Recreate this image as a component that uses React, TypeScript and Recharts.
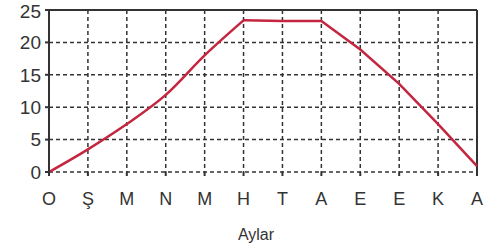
import { LineChart, Line, XAxis, YAxis, CartesianGrid, ReferenceLine, Label } from 'recharts'

const months = ['O', 'Ş', 'M', 'N', 'M', 'H', 'T', 'A', 'E', 'E', 'K', 'A']
const values = [0, 3.5, 7.4, 11.9, 18, 23.4, 23.3, 23.3, 18.9, 13.6, 7.4, 0.9]
const yTicks = [0, 5, 10, 15, 20, 25]
const peakIndex = 5

// rising part is smooth, the plateau and the fall are straight segments
const data = months.map((m, i) => ({
  idx: i,
  month: m,
  rise: i <= peakIndex ? values[i] : null,
  fall: i >= peakIndex ? values[i] : null,
}))

const font = 'Liberation Sans, Arial, sans-serif'
const ink = '#333'
const red = '#c4253f'

export default function App() {
  return (
    <div style={{ position: 'absolute', left: 0, top: 0 }}>
      <LineChart
        width={496}
        height={244}
        data={data}
        margin={{ top: 10, right: 19, bottom: 0, left: 0 }}
      >
        <CartesianGrid stroke={ink} strokeWidth={1.5} strokeDasharray="4 3" />
        <XAxis
          dataKey="idx"
          type="number"
          domain={[0, 11]}
          ticks={data.map((d) => d.idx)}
          tickFormatter={(i: number) => months[i]}
          height={72}
          axisLine={false}
          tickSize={4}
          tickMargin={16}
          tickLine={{ stroke: ink, strokeWidth: 2 }}
          tick={{ fontSize: 18, fill: ink, fontFamily: font }}
          interval={0}
        >
          <Label
            value="Aylar"
            position="insideBottom"
            offset={4}
            dx={-7}
            style={{ fontSize: 16, fill: ink, fontFamily: font }}
          />
        </XAxis>
        <YAxis
          domain={[0, 25]}
          ticks={yTicks}
          width={49}
          tickSize={4}
          tickMargin={4}
          stroke={ink}
          strokeWidth={2}
          tick={{ fontSize: 19, fill: ink, fontFamily: font }}
        />
        <ReferenceLine y={25} stroke={ink} strokeWidth={2} />
        <ReferenceLine x={11} stroke={ink} strokeWidth={2} />
        <Line
          type="monotone"
          dataKey="rise"
          stroke={red}
          strokeWidth={2.5}
          dot={false}
          connectNulls={false}
          isAnimationActive={false}
        />
        <Line
          type="linear"
          dataKey="fall"
          stroke={red}
          strokeWidth={2.5}
          dot={false}
          connectNulls={false}
          isAnimationActive={false}
        />
      </LineChart>
    </div>
  )
}
